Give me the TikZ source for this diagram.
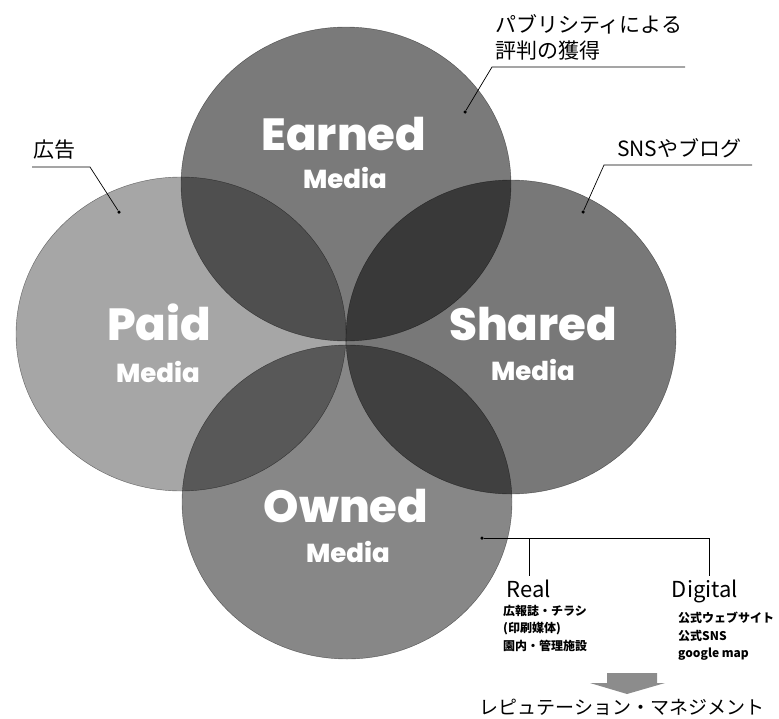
\documentclass[tikz,border=0pt]{standalone}
\usepackage{fontspec}
\setmainfont{Noto Sans CJK JP}
\IfFontExistsTF{Poppins ExtraBold}
	{\newfontfamily\mediafont{Poppins ExtraBold}\def\mediaweight{}}
	{\newfontfamily\mediafont{Poppins}\def\mediaweight{\bfseries}}
\usetikzlibrary{shapes.geometric}

\tikzstyle{media} = [ellipse, minimum width=330pt, minimum height=314pt, inner sep=0pt, fill=black, draw=black, draw opacity=0.5, line width=0.4pt]
\tikzstyle{bigname} = [text=white, inner sep=0pt, anchor=base, font=\mediafont\mediaweight\fontsize{45}{45}\selectfont]
\tikzstyle{smallname} = [text=white, inner sep=0pt, anchor=base, font=\mediafont\mediaweight\fontsize{26}{26}\selectfont]
\tikzstyle{note} = [inner sep=0pt, anchor=west, align=left, font=\fontsize{21}{26}\selectfont]
\tikzstyle{kind} = [inner sep=3pt, anchor=base, font=\fontsize{22}{24}\selectfont]
\tikzstyle{items} = [inner sep=0pt, anchor=north west, align=left, font=\bfseries\fontsize{12}{17.5}\selectfont]
\tikzstyle{pin} = [circle, fill=black, inner sep=0pt, minimum size=3.5pt]
\tikzstyle{leader} = [line width=0.7pt]

\begin{document}
\begin{tikzpicture}[x=1pt, y=-1pt]
	\useasboundingbox (0,0) rectangle (779,718);

	% the four media
	\node (paid) [media, fill opacity=0.35] at (181,334) {};
	\node (earned) [media, fill opacity=0.52] at (346,184) {};
	\node (shared) [media, fill opacity=0.53] at (511,337) {};
	\node (owned) [media, fill opacity=0.47] at (347,502) {};

	\node (earnedname) [bigname] at (344,150) {Earned};
	\node (earnedsub) [smallname] at (345,188) {Media};
	\node (paidname) [bigname] at (159,340) {Paid};
	\node (paidsub) [smallname] at (158,382) {Media};
	\node (sharedname) [bigname] at (533,340) {Shared};
	\node (sharedsub) [smallname] at (533,380) {Media};
	\node (ownedname) [bigname] at (346,522) {Owned};
	\node (ownedsub) [smallname] at (348,562) {Media};

	% notes with leaders
	\node (earnedtext) [note] at (495,37) {パブリシティによる\\評判の獲得};
	\node (earnedpin) [pin] at (465,112) {};
	\coordinate (earnedkink) at (492,67);
	\coordinate (earnedend) at (685,67);
	\draw [leader] (earnedend) -- (earnedkink) -- (earnedpin);

	\node (paidtext) [note] at (33,150) {広告};
	\node (paidpin) [pin] at (119,212) {};
	\coordinate (paidend) at (32,167);
	\coordinate (paidkink) at (90,167);
	\draw [leader] (paidend) -- (paidkink) -- (paidpin);

	\node (sharedtext) [note] at (617,148) {SNSやブログ};
	\node (sharedpin) [pin] at (583,212) {};
	\coordinate (sharedkink) at (604,165);
	\coordinate (sharedend) at (752,165);
	\draw [leader] (sharedend) -- (sharedkink) -- (sharedpin);

	% owned media branches
	\node (ownedpin) [pin] at (482,538) {};
	\node (real) [kind] at (529,597) {Real};
	\node (digital) [kind] at (705,597) {Digital};
	\coordinate (branch) at (709,538);
	\draw [leader] (ownedpin) -- (branch) -- (branch |- digital.north);
	\draw [leader] (ownedpin -| real) -- (real.north);
	\node (realitems) [items] at (503,605) {広報誌・チラシ\\(印刷媒体)\\園内・管理施設};
	\node (digitalitems) [items] at (678,612) {公式ウェブサイト\\公式SNS\\google map};

	% result
	\fill [black!45] (607,673) -- (657,673) -- (657,683) -- (665,683) -- (627,694) -- (590,683) -- (607,683) -- cycle;
	\node (result) [inner sep=0pt, font=\fontsize{19}{19}\selectfont] at (622,707) {レピュテーション・マネジメント};
\end{tikzpicture}
\end{document}
